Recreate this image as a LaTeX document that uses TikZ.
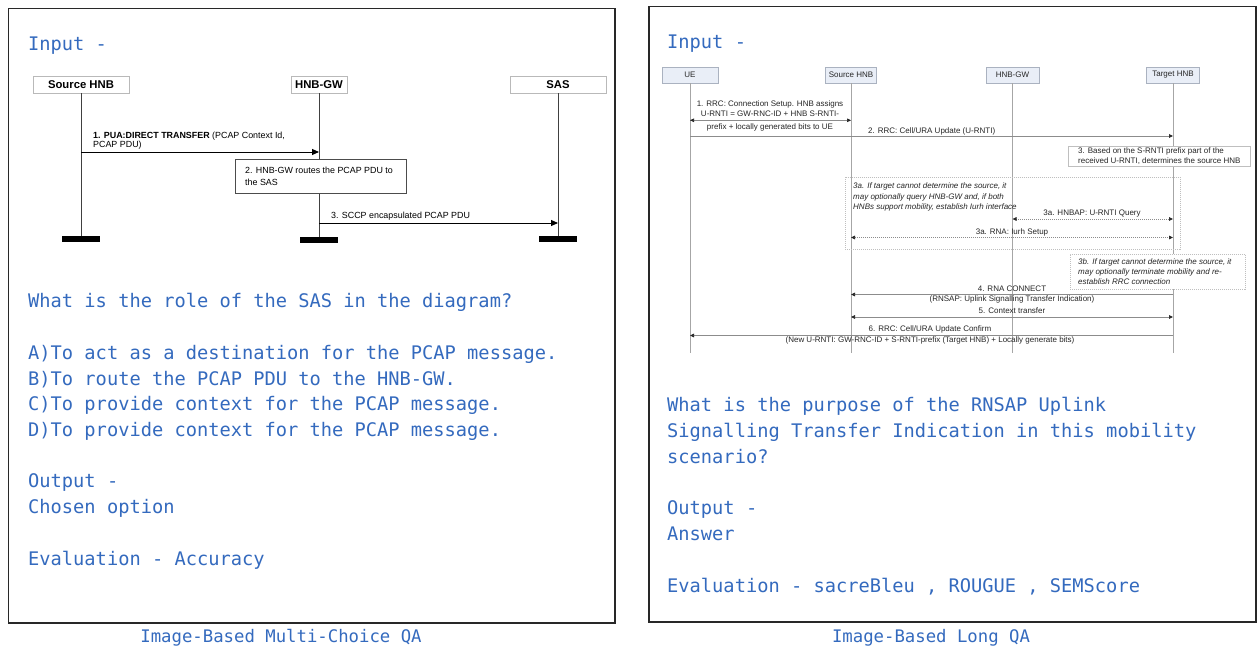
\documentclass[tikz,border=0pt]{standalone}
\usepackage{fontspec}
\setmainfont{Liberation Sans}
\newfontfamily\monof{DejaVu Sans Mono}
\usetikzlibrary{arrows.meta}
\definecolor{qblue}{RGB}{52,106,190}
\definecolor{panelc}{RGB}{40,40,40}
\definecolor{hdrfill}{RGB}{233,238,247}
\definecolor{hdrdraw}{RGB}{170,178,192}
\definecolor{lgray}{RGB}{185,185,185}
\begin{document}
\begin{tikzpicture}[x=1pt,y=-1pt,
  panel/.style={draw=panelc,line width=1.6pt},
  qtext/.style={font=\monof\fontsize{18.7}{22}\selectfont,text=qblue,anchor=mid west,inner sep=0pt,yshift=-5pt},
  captext/.style={font=\monof\fontsize{17.3}{20}\selectfont,text=qblue,anchor=mid,inner sep=0pt,yshift=-3pt},
  lhdr/.style={draw=lgray,fill=white,line width=0.8pt,font=\fontsize{11.3}{13}\selectfont\bfseries,minimum height=17pt,inner sep=0pt},
  llife/.style={draw=black!75,line width=0.9pt},
  lbar/.style={fill=black,inner sep=0pt,minimum width=38pt,minimum height=5.5pt},
  lmsg/.style={draw=black,line width=0.9pt,-{Triangle[length=7pt,width=6pt]}},
  ltxt/.style={font=\fontsize{8.9}{9.8}\selectfont,anchor=mid west,inner sep=0pt},
  rhdr/.style={draw=hdrdraw,fill=hdrfill,line width=0.6pt,font=\fontsize{8}{9}\selectfont,text=black!85,minimum height=16pt,inner sep=0pt},
  rlife/.style={draw=black!35,line width=0.7pt},
  rmsg/.style={draw=black!45,line width=0.7pt},
  rtip/.style={-{Triangle[length=4pt,width=3.6pt,color=black!85]}},
  rtips/.style={{Triangle[length=4pt,width=3.6pt,color=black!85]}-{Triangle[length=4pt,width=3.6pt,color=black!85]}},
  rdot/.style={dash pattern=on 1pt off 1pt},
  rtxt/.style={font=\fontsize{8}{9}\selectfont,text=black!85,inner sep=0pt},
  ritx/.style={rtxt,anchor=mid west,font=\fontsize{8}{9}\selectfont\itshape},
  rbox/.style={draw=black!25,fill=white,line width=0.6pt,inner sep=0pt,anchor=north west}
]
\useasboundingbox (0,0) rectangle (1257,651);
\fill[white] (0,0) rectangle (1257,651);

% ---------------- panels ----------------
\draw[panel] (8.5,8.5) rectangle (615,623);
\draw[panel] (649,6.5) rectangle (1256,622);

% ---------------- left panel text ----------------
\node[qtext] (inL) at (28,43) {Input -};
\node[qtext] (qL) at (28,300) {What is the role of the SAS in the diagram?};
\node[qtext] (oA) at (28,352) {A)To act as a destination for the PCAP message.};
\node[qtext] (oB) at (28,377.5) {B)To route the PCAP PDU to the HNB-GW.};
\node[qtext] (oC) at (28,403) {C)To provide context for the PCAP message.};
\node[qtext] (oD) at (28,429) {D)To provide context for the PCAP message.};
\node[qtext] (outL) at (28,480) {Output -};
\node[qtext] (outL2) at (28,506) {Chosen option};
\node[qtext] (evL) at (28,558) {Evaluation - Accuracy};
\node[captext] (capL) at (281,637) {Image-Based Multi-Choice QA};

% ---------------- left sequence diagram ----------------
\node[lhdr,minimum width=96pt] (srcL) at (81,84.5) {Source HNB};
\node[lhdr,minimum width=56pt] (gwL) at (319,84.5) {HNB-GW};
\node[lhdr,minimum width=96pt] (sasL) at (558,84.5) {SAS};
\node[lbar] (srcB) at (81,238.75) {};
\node[lbar] (gwB) at (319,240) {};
\node[lbar] (sasB) at (558,238.75) {};
\draw[llife] (srcL.south) -- (srcB.north);
\draw[llife] (gwL.south) -- (gwB.north);
\draw[llife] (sasL.south) -- (sasB.north);

\coordinate (m1a) at (81,152);
\coordinate (m1b) at (319,152);
\draw[lmsg] (m1a) -- (m1b);
\node[ltxt] (m1t) at (93,136) {\textbf{1. PUA:DIRECT TRANSFER} (PCAP Context Id,};
\node[ltxt] (m1t2) at (93,145) {PCAP PDU)};

\node[draw=black!70,fill=white,line width=0.7pt,minimum width=171pt,minimum height=34pt,anchor=north west,inner sep=0pt] (b2) at (235,159) {};
\node[ltxt] (b2t) at (245,171) {2. HNB-GW routes the PCAP PDU to};
\node[ltxt] (b2t2) at (245,182.5) {the SAS};

\coordinate (m3a) at (319,223);
\coordinate (m3b) at (558,223);
\draw[lmsg] (m3a) -- (m3b);
\node[ltxt] (m3t) at (331,216) {3. SCCP encapsulated PCAP PDU};

% ---------------- right panel text ----------------
\node[qtext] (inR) at (667,41) {Input -};
\node[qtext] (qR1) at (667,404) {What is the purpose of the RNSAP Uplink};
\node[qtext] (qR2) at (667,430) {Signalling Transfer Indication in this mobility};
\node[qtext] (qR3) at (667,455.5) {scenario?};
\node[qtext] (outR) at (667,507) {Output -};
\node[qtext] (outR2) at (667,533) {Answer};
\node[qtext] (evR) at (667,585) {Evaluation - sacreBleu , ROUGUE , SEMScore};
\node[captext] (capR) at (931,637) {Image-Based Long QA};

% ---------------- right sequence diagram ----------------
\node[rhdr,minimum width=56pt] (ue) at (690,75) {UE};
\node[rhdr,minimum width=51pt] (shnb) at (851,75) {Source HNB};
\node[rhdr,minimum width=53pt] (gwR) at (1012.5,75) {HNB-GW};
\node[rhdr,minimum width=53pt] (thnb) at (1173,75) {Target HNB};
\coordinate (ueE) at (690,353);
\coordinate (shE) at (851,353);
\coordinate (gwE) at (1012.5,353);
\coordinate (thE) at (1173,353);
\draw[rlife] (ue.south) -- (ueE);
\draw[rlife] (shnb.south) -- (shE);
\draw[rlife] (gwR.south) -- (gwE);
\draw[rlife] (thnb.south) -- (thE);

% 1
\coordinate (r1a) at (690,120.3);
\coordinate (r1b) at (851,120.3);
\draw[rmsg,rtips] (r1a) -- (r1b);
\node[rtxt] (r1t1) at (770,104.5) {1. RRC: Connection Setup. HNB assigns};
\node[rtxt] (r1t2) at (770,113.5) {U-RNTI = GW-RNC-ID + HNB S-RNTI-};
\node[rtxt] (r1t3) at (770,127) {prefix + locally generated bits to UE};
% 2
\coordinate (r2a) at (690,136);
\coordinate (r2b) at (1173,136);
\draw[rmsg,rtip] (r2a) -- (r2b);
\node[rtxt,anchor=mid west] (r2t) at (868,130.5) {2. RRC: Cell/URA Update (U-RNTI)};
% 3
\node[rbox,minimum width=182pt,minimum height=20pt] (b3) at (1068,146) {};
\node[rtxt,anchor=mid west] (b3t1) at (1078,151) {3. Based on the S-RNTI prefix part of the};
\node[rtxt,anchor=mid west] (b3t2) at (1078,160.5) {received U-RNTI, determines the source HNB};
% 3a group
\node[draw=black!25,rdot,line width=0.6pt,minimum width=335pt,minimum height=72pt,anchor=north west,inner sep=0pt] (b3a) at (845,177) {};
\node[ritx] (b3at1) at (853,186) {3a. If target cannot determine the source, it};
\node[ritx] (b3at2) at (853,196.5) {may optionally query HNB-GW and, if both};
\node[ritx] (b3at3) at (853,207) {HNBs support mobility, establish Iurh interface};
\coordinate (r3aa) at (1012.5,219);
\coordinate (r3ab) at (1173,219);
\draw[rmsg,rdot,rtips] (r3aa) -- (r3ab);
\node[rtxt] (r3at) at (1092,213.5) {3a. HNBAP: U-RNTI Query};
\coordinate (r3ba) at (851,237.5);
\coordinate (r3bb) at (1173,237.5);
\draw[rmsg,rdot,rtips] (r3ba) -- (r3bb);
\node[rtxt] (r3bt) at (1012,232) {3a. RNA: Iurh Setup};
% 3b
\node[rbox,rdot,minimum width=175pt,minimum height=35pt] (b3b) at (1070,254) {};
\node[ritx] (b3bt1) at (1078,262) {3b. If target cannot determine the source, it};
\node[ritx] (b3bt2) at (1078,272) {may optionally terminate mobility and re-};
\node[ritx] (b3bt3) at (1078,282) {establish RRC connection};
% 4
\coordinate (r4a) at (1173,294.5);
\coordinate (r4b) at (851,294.5);
\draw[rmsg,rtip] (r4a) -- (r4b);
\node[rtxt] (r4t1) at (1012,288.5) {4. RNA CONNECT};
\node[rtxt] (r4t2) at (1012,299.5) {(RNSAP: Uplink Signalling Transfer Indication)};
% 5
\coordinate (r5a) at (851,317);
\coordinate (r5b) at (1173,317);
\draw[rmsg,rtips] (r5a) -- (r5b);
\node[rtxt] (r5t) at (1012,310.5) {5. Context transfer};
% 6
\coordinate (r6a) at (1173,335.5);
\coordinate (r6b) at (690,335.5);
\draw[rmsg,rtip] (r6a) -- (r6b);
\node[rtxt] (r6t1) at (930,329) {6. RRC: Cell/URA Update Confirm};
\node[rtxt] (r6t2) at (930,340.5) {(New U-RNTI: GW-RNC-ID + S-RNTI-prefix (Target HNB) + Locally generate bits)};
\end{tikzpicture}
\end{document}
